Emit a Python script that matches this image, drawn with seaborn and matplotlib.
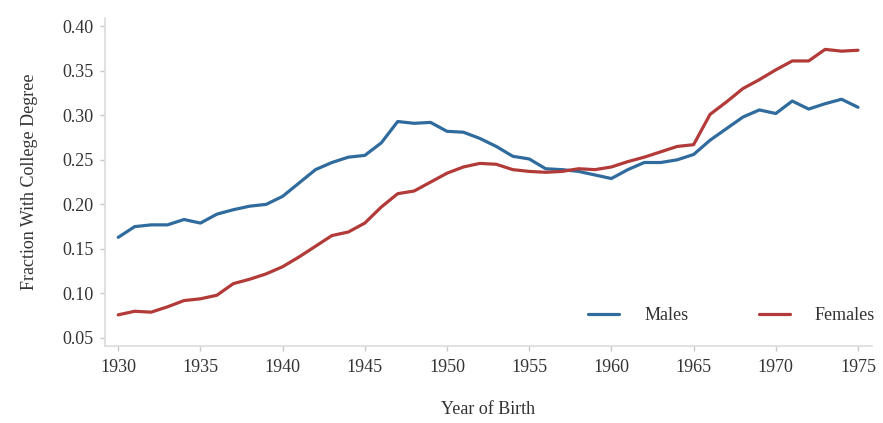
import numpy as np
import pandas as pd
import seaborn as sns
import matplotlib.pyplot as plt

# Data
years = list(range(1930, 1976))
males = [0.163, 0.175, 0.177, 0.177, 0.183, 0.179, 0.189, 0.194, 0.198, 0.200,
         0.209, 0.224, 0.239, 0.247, 0.253, 0.255, 0.269, 0.293, 0.291, 0.292,
         0.282, 0.281, 0.274, 0.265, 0.254, 0.251, 0.240, 0.239, 0.237, 0.233,
         0.229, 0.239, 0.247, 0.247, 0.250, 0.256, 0.272, 0.285, 0.298, 0.306,
         0.302, 0.316, 0.307, 0.313, 0.318, 0.309]
females = [0.076, 0.080, 0.079, 0.085, 0.092, 0.094, 0.098, 0.111, 0.116, 0.122,
           0.130, 0.141, 0.153, 0.165, 0.169, 0.179, 0.197, 0.212, 0.215, 0.225,
           0.235, 0.242, 0.246, 0.245, 0.239, 0.237, 0.236, 0.237, 0.240, 0.239,
           0.242, 0.248, 0.253, 0.259, 0.265, 0.267, 0.301, 0.315, 0.330, 0.340,
           0.351, 0.361, 0.361, 0.374, 0.372, 0.373]
groups = ["Males", "Females"]
colors = {"Males": "#2f6b9c", "Females": "#b23a38"}

df = pd.DataFrame({
    "year": years * 2,
    "frac": males + females,
    "sex": ["Males"] * len(years) + ["Females"] * len(years),
})

sns.set_style("white")
plt.rcParams['font.family'] = ['Liberation Serif', 'DejaVu Serif']
txt = "#333333"

fig = plt.figure(figsize=(8.83, 4.23), dpi=100)
ax = fig.add_axes([0.119, 0.182, 0.8685, 0.775])
sns.lineplot(data=df, x="year", y="frac", hue="sex", hue_order=groups,
             palette=colors, linewidth=2.3, ax=ax)

ax.set_xlim(1929.2, 1975.85)
ax.set_ylim(0.041, 0.409)
ax.set_xticks(range(1930, 1976, 5))
ax.set_yticks(np.arange(0.05, 0.401, 0.05))
ax.yaxis.set_major_formatter(plt.FormatStrFormatter('%.2f'))

for s in ["top", "right"]:
    ax.spines[s].set_visible(False)
for s in ["left", "bottom"]:
    ax.spines[s].set_color("#dcdcdc")
    ax.spines[s].set_linewidth(1.2)
ax.tick_params(axis="both", bottom=True, left=True, length=3.5, width=1,
               color="#c8c8c8", labelsize=13, labelcolor=txt, pad=5,
               direction="out")
ax.tick_params(axis="x", pad=6)

ax.set_xlabel("Year of Birth", fontsize=13, color=txt, labelpad=18)
ax.set_ylabel("Fraction With College Degree", fontsize=13, color=txt, labelpad=17)

leg = ax.legend(loc="center right", ncol=2, frameon=False, fontsize=13,
                handlelength=1.7, handletextpad=1.4, columnspacing=3.9,
                borderpad=0, borderaxespad=0,
                bbox_to_anchor=(0.991, 0.253), bbox_transform=fig.transFigure)
for t in leg.get_texts():
    t.set_color(txt)

fig.savefig("out.png", dpi=100)
